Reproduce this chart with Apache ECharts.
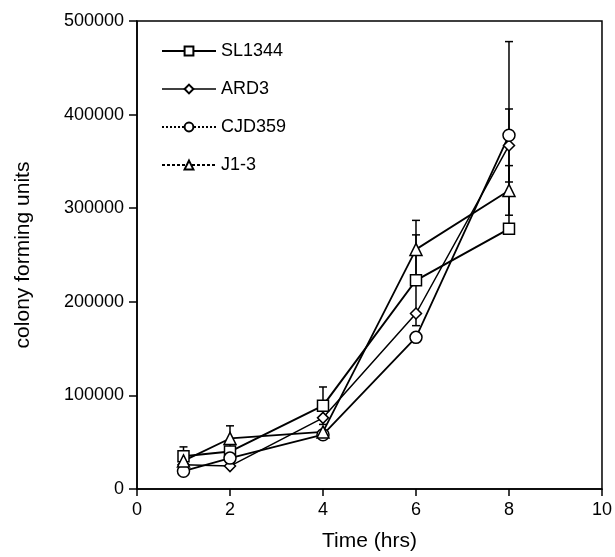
<!DOCTYPE html>
<html><head><meta charset="utf-8">
<script src="https://cdn.jsdelivr.net/npm/echarts@6/dist/echarts.min.js"></script>
<style>html,body{margin:0;padding:0;background:#fff}#c{width:615px;height:557px}</style>
</head><body><div id="c"></div>
<script>
const hours = [1, 2, 4, 6, 8];
const seriesNames = ['SL1344', 'ARD3', 'CJD359', 'J1-3'];
const sl1344 = [35000, 40000, 89000, 223000, 278000];
const ard3 = [26000, 24500, 76000, 187500, 367000];
const cjd359 = [19000, 33000, 58000, 162000, 378000];
const j13 = [30000, 54000, 61000, 256000, 319000];
const sl1344Err = [10000, 0, 20000, 48500, 0];
const ard3Err = [0, 0, 0, 0, 39000];
const cjd359Err = [0, 0, 0, 0, 100000];
const j13Err = [0, 13500, 0, 31000, 26500];
const xTicks = [0, 2, 4, 6, 8, 10];
const yTicks = [0, 100000, 200000, 300000, 400000, 500000];

const values = [sl1344, ard3, cjd359, j13];
const errs = [sl1344Err, ard3Err, cjd359Err, j13Err];
const symbols = ['rect', 'diamond', 'circle', 'triangle'];
const symSizes = [11, 11, 12, 12];
const lineWidths = [2, 1.5, 1.8, 1.8];
const legendTypes = ['solid', 'solid', [2, 2], [3, 2]];
const font = 'Liberation Sans, Arial, sans-serif';

const chart = echarts.init(document.getElementById('c'), null, {renderer: 'canvas'});
const series = [];
values.forEach((vals, i) => {
  const errData = [];
  hours.forEach((h, k) => { if (errs[i][k] > 0) errData.push([h, vals[k] - errs[i][k], vals[k] + errs[i][k]]); });
  series.push({
    type: 'custom', name: seriesNames[i] + '_err', z: 1, silent: true,
    data: errData,
    renderItem: function (params, api) {
      const x = api.value(0);
      const lo = api.coord([x, api.value(1)]);
      const hi = api.coord([x, api.value(2)]);
      const w = 4;
      const st = {stroke: '#000', lineWidth: 1.5};
      return {type: 'group', children: [
        {type: 'line', shape: {x1: lo[0], y1: lo[1], x2: hi[0], y2: hi[1]}, style: st},
        {type: 'line', shape: {x1: lo[0] - w, y1: lo[1], x2: lo[0] + w, y2: lo[1]}, style: st},
        {type: 'line', shape: {x1: hi[0] - w, y1: hi[1], x2: hi[0] + w, y2: hi[1]}, style: st}
      ]};
    }
  });
});
values.forEach((vals, i) => {
  series.push({
    type: 'line', name: seriesNames[i], z: 3,
    data: hours.map((h, k) => [h, vals[k]]),
    symbol: symbols[i], symbolSize: symSizes[i], showSymbol: true,
    lineStyle: {color: '#000', width: lineWidths[i], type: 'solid'},
    itemStyle: {color: '#fff', borderColor: '#000', borderWidth: 1.5},
    emphasis: {disabled: true}, animation: false
  });
});

chart.setOption({
  animation: false,
  backgroundColor: '#fff',
  grid: {left: 137, right: 12, top: 21, bottom: 64, show: true, borderColor: '#000', borderWidth: 1.5},
  legend: {
    orient: 'vertical', left: 156, top: 37, itemWidth: 54, itemHeight: 11, itemGap: 20,
    textStyle: {fontFamily: font, fontSize: 18, color: '#000'},
    data: seriesNames.map((n, i) => ({name: n, lineStyle: {type: legendTypes[i], width: lineWidths[i], color: '#000'}}))
  },
  xAxis: {
    type: 'value', min: xTicks[0], max: xTicks[xTicks.length - 1], interval: 2,
    name: 'Time (hrs)', nameLocation: 'middle', nameGap: 42,
    nameTextStyle: {fontFamily: font, fontSize: 21, color: '#000'},
    axisLine: {lineStyle: {color: '#000', width: 1.5}},
    axisTick: {show: true, inside: false, length: 7, lineStyle: {color: '#000', width: 1.5}},
    axisLabel: {fontFamily: font, fontSize: 18, color: '#000', margin: 12},
    splitLine: {show: false}
  },
  yAxis: {
    type: 'value', min: yTicks[0], max: yTicks[yTicks.length - 1], interval: 100000,
    name: 'colony forming units', nameLocation: 'middle', nameGap: 103, nameRotate: 90,
    nameTextStyle: {fontFamily: font, fontSize: 21, color: '#000'},
    axisLine: {lineStyle: {color: '#000', width: 1.5}},
    axisTick: {show: true, inside: false, length: 8, lineStyle: {color: '#000', width: 1.5}},
    axisLabel: {fontFamily: font, fontSize: 18, color: '#000', margin: 13, formatter: v => String(v)},
    splitLine: {show: false}
  },
  series: series
});
</script></body></html>
